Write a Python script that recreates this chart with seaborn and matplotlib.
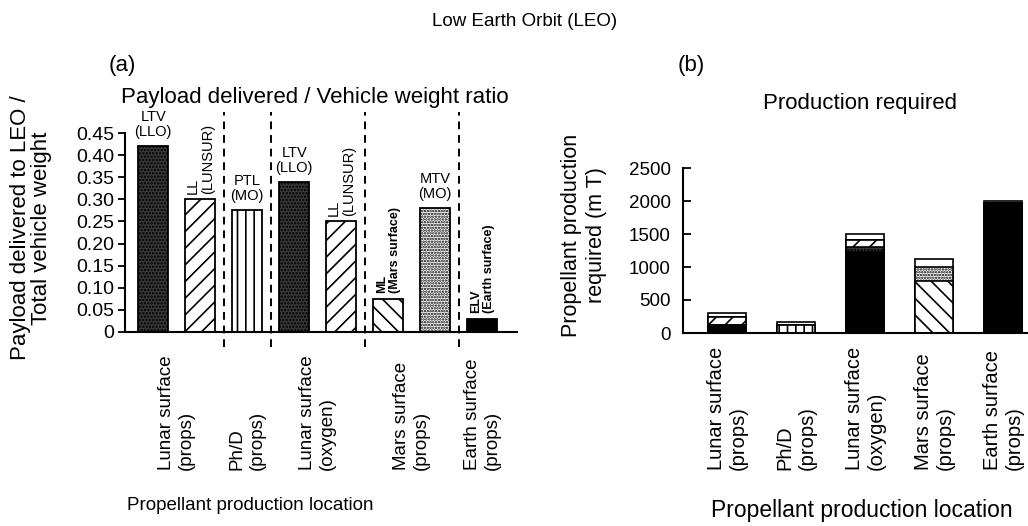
import numpy as np
import pandas as pd
import matplotlib
matplotlib.use("Agg")
import matplotlib.pyplot as plt
import seaborn as sns

# ---- panel (a): payload / vehicle weight ratio ----
ratio_vehicles = ["LTV", "LL", "PTL", "LTV", "LL", "ML", "MTV", "ELV"]
ratio_tags = ["LTV\n(LLO)", "LL\n(LUNSUR)", "PTL\n(MO)", "LTV\n(LLO)",
              "LL\n(LUNSUR)", "ML\n(Mars surface)", "MTV\n(MO)", "ELV\n(Earth surface)"]
ratio_values = [0.42, 0.30, 0.275, 0.34, 0.25, 0.075, 0.28, 0.03]
locations = ["Lunar surface\n(props)", "Ph/D\n(props)", "Lunar surface\n(oxygen)",
             "Mars surface\n(props)", "Earth surface\n(props)"]
group_sizes = [2, 1, 2, 2, 1]
yticks_a = [0, 0.05, 0.10, 0.15, 0.20, 0.25, 0.30, 0.35, 0.40, 0.45]
ytick_labels_a = ["0", "0.05", "0.10", "0.15", "0.20", "0.25", "0.30", "0.35", "0.40", "0.45"]

# ---- panel (b): propellant production required (m T), stacked bottom -> top ----
elv = [120, 0, 1230, 0, 1975]
ltv = [0, 0, 70, 0, 0]
ll = [130, 0, 110, 0, 0]
ptl = [0, 115, 0, 0, 0]
ml = [0, 0, 0, 790, 0]
mtv = [0, 0, 0, 210, 0]
other = [50, 55, 90, 120, 25]
yticks_b = [0, 500, 1000, 1500, 2000, 2500]

fills = {
    "LTV": dict(color="#3a3a3a", hatch="....."),
    "LL": dict(color="white", hatch="//"),
    "PTL": dict(color="white", hatch="||"),
    "ML": dict(color="white", hatch="\\\\"),
    "MTV": dict(color="white", hatch="......"),
    "ELV": dict(color="black", hatch=None),
    "other": dict(color="white", hatch=None),
}

sns.set_style("ticks")
plt.rcParams["font.family"] = ["Liberation Sans", "DejaVu Sans"]
plt.rcParams["hatch.linewidth"] = 1.2
plt.rcParams["axes.linewidth"] = 1.5
for key in ["text.color", "axes.labelcolor", "axes.edgecolor", "xtick.color", "ytick.color"]:
    plt.rcParams[key] = "black"

W, H = 1028, 526
fig = plt.figure(figsize=(W / 100, H / 100), dpi=100)
ax1 = fig.add_axes([125 / W, 1 - 332 / H, 392 / W, 199 / H])
ax2 = fig.add_axes([683 / W, 1 - 333 / H, 345 / W, 165 / H])

# --- (a) ---
df_a = pd.DataFrame({"pos": range(len(ratio_values)), "ratio": ratio_values})
sns.barplot(data=df_a, x="pos", y="ratio", color="white", edgecolor="black",
            linewidth=1.3, width=0.64, saturation=1, errorbar=None, ax=ax1)
for patch, veh, tag in zip(ax1.patches, ratio_vehicles, ratio_tags):
    patch.set_facecolor(fills[veh]["color"])
    patch.set_hatch(fills[veh]["hatch"])
    xc = patch.get_x() + patch.get_width() / 2
    if veh in ("LL", "ML", "ELV"):
        ax1.annotate(tag, (xc, patch.get_height()), xytext=(0, 4), textcoords="offset points",
                     rotation=90, ha="center", va="bottom", multialignment="left",
                     fontsize=10.5 if veh == "LL" else 9,
                     fontweight="normal" if veh == "LL" else "bold", linespacing=1.1)
    else:
        ax1.annotate(tag, (xc, patch.get_height()), xytext=(0, 5), textcoords="offset points",
                     ha="center", va="bottom", multialignment="center", fontsize=10.5,
                     linespacing=1.1)

edges = np.cumsum(group_sizes)
centers = edges - np.array(group_sizes) / 2 - 0.5
ax1.vlines(edges[:-1] - 0.5, -0.035, 0.497, colors="black", linestyles=(0, (4, 3)),
           linewidth=1.4, clip_on=False)
ax1.set_xlim(-0.6, 7.74)
ax1.set_ylim(0, 0.45)
ax1.set_yticks(yticks_a, ytick_labels_a)
ax1.set_xticks(centers, [""] * len(centers))
ax1.tick_params(axis="x", length=0)
ax1.tick_params(axis="y", direction="out", length=5, width=1.3, labelsize=14, pad=3)
ax1.set_xlabel("")
ax1.set_ylabel("")
for xc, lab in zip(centers, locations):
    ax1.text(xc, -0.693, lab, transform=ax1.get_xaxis_transform(), rotation=90,
             ha="center", va="bottom", multialignment="left", fontsize=13.5)

# --- (b) stacked: draw cumulative totals from the top layer down ---
layers = [("ELV", elv), ("LTV", ltv), ("LL", ll), ("PTL", ptl),
          ("ML", ml), ("MTV", mtv), ("other", other)]
cum = np.cumsum([vals for _, vals in layers], axis=0)
for (veh, _), tops in reversed(list(zip(layers, cum))):
    sns.barplot(x=locations, y=tops, order=locations, color=fills[veh]["color"],
                hatch=fills[veh]["hatch"], edgecolor="black", linewidth=1.2,
                width=0.55, saturation=1, errorbar=None, ax=ax2)
ax2.set_xlim(-0.64, 4.36)
ax2.set_ylim(0, 2500)
ax2.set_yticks(yticks_b)
ax2.set_xticks(range(len(locations)), [""] * len(locations))
ax2.tick_params(axis="x", length=0)
ax2.tick_params(axis="y", direction="in", length=6, width=1.3, labelsize=13.5, pad=9)
ax2.set_xlabel("")
ax2.set_ylabel("")
for i, lab in enumerate(locations):
    ax2.text(i, -0.83, lab, transform=ax2.get_xaxis_transform(), rotation=90,
             ha="center", va="bottom", multialignment="left", fontsize=14.5)

sns.despine(ax=ax1)
sns.despine(ax=ax2)

# --- titles and axis labels ---
fig.text(432 / W, 1 - 22 / H, "Low Earth Orbit (LEO)", ha="left", va="center", fontsize=13.5)
fig.text(109 / W, 1 - 66 / H, "(a)", ha="left", va="center", fontsize=16)
fig.text(678 / W, 1 - 66 / H, "(b)", ha="left", va="center", fontsize=16)
fig.text(315 / W, 1 - 97 / H, "Payload delivered / Vehicle weight ratio",
         ha="center", va="center", fontsize=16)
fig.text(860 / W, 1 - 104 / H, "Production required", ha="center", va="center", fontsize=16)
fig.text(31 / W, 1 - 228 / H, "Payload delivered to LEO /\nTotal vehicle weight",
         rotation=90, ha="center", va="center", fontsize=16, linespacing=1.05)
fig.text(584 / W, 1 - 235 / H, "Propellant production\nrequired (m T)",
         rotation=90, ha="center", va="center", fontsize=15.5, linespacing=1.2)
fig.text(250 / W, 1 - 505 / H, "Propellant production location",
         ha="center", va="center", fontsize=13.5)
fig.text(862 / W, 1 - 510 / H, "Propellant production location",
         ha="center", va="center", fontsize=16.5)

fig.savefig("out.png", dpi=100)
